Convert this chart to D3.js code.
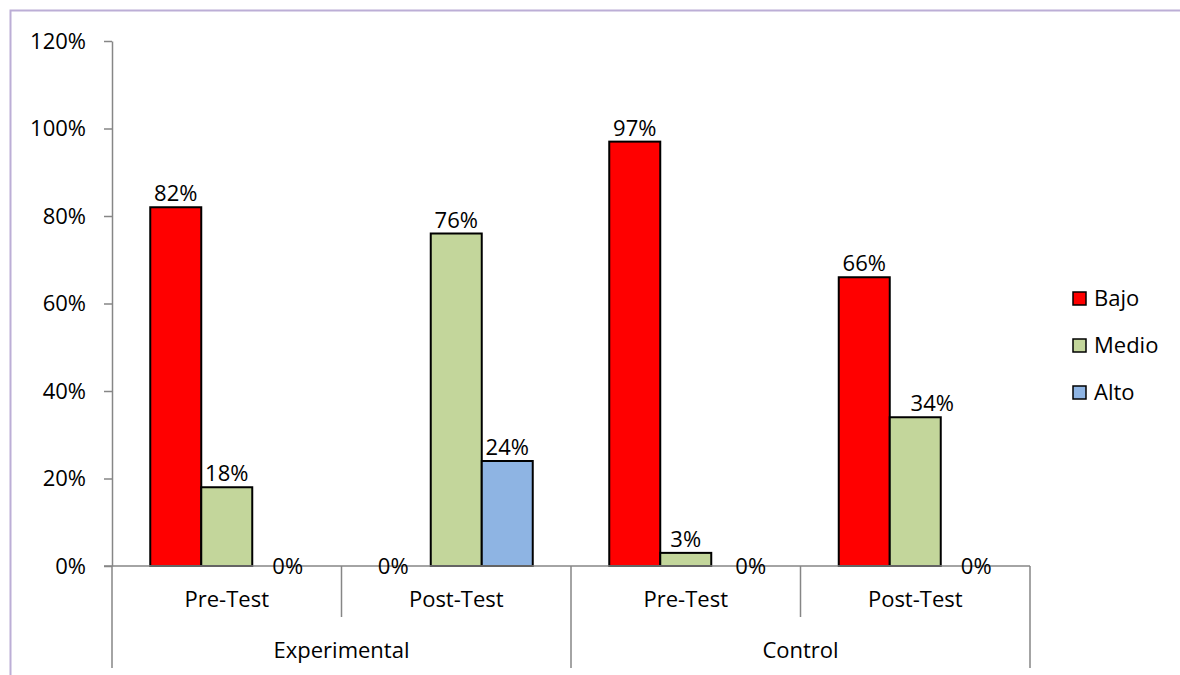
<!DOCTYPE html>
<html>
<head>
<meta charset="utf-8">
<script src="https://cdn.jsdelivr.net/npm/d3@7"></script>
<style>
  body { margin: 0; background: #fff; }
  svg { display: block; font-family: "Open Sans", sans-serif; }
</style>
</head>
<body>
<svg width="1180" height="675"></svg>
<script>
'use strict';

// datos
var grupos = ["Experimental", "Control"];
var pruebas = ["Pre-Test", "Post-Test"];
var series = ["Bajo", "Medio", "Alto"];
var bajo = [0.82, 0.00, 0.97, 0.66];
var medio = [0.18, 0.76, 0.03, 0.34];
var alto = [0.00, 0.24, 0.00, 0.00];
var yTicks = [0, 0.2, 0.4, 0.6, 0.8, 1.0, 1.2];
var colores = ["#FF0000", "#C3D69B", "#8EB4E3"];

var svg = d3.select("svg");
var fs = 22;

// borde del area del grafico
svg.append("path")
    .attr("d", "M10.5,700 V10.5 H1200")
    .attr("fill", "none")
    .attr("stroke", "#BCAED6")
    .attr("stroke-width", 2);

var mIzq = 112, mDer = 1030, mSup = 41, mInf = 566;

var categorias = [];
grupos.forEach(function(g) {
    pruebas.forEach(function(p) { categorias.push({grupo: g, prueba: p, key: g + "|" + p}); });
});

var valores = [bajo, medio, alto];

var x0 = d3.scaleBand()
    .domain(categorias.map(function(d) { return d.key; }))
    .range([mIzq, mDer])
    .padding(0);

var x1 = d3.scaleBand()
    .domain(series)
    .range([0, x0.bandwidth()])
    .paddingInner(0)
    .paddingOuter(0.75);

var y = d3.scaleLinear().domain([0, 1.2]).range([mInf, mSup]);

var fmt = d3.format(".0%");

// eje y
svg.append("g")
    .attr("transform", "translate(" + mIzq + ",0)")
    .call(d3.axisLeft(y).tickValues(yTicks).tickFormat(fmt).tickSize(8).tickPadding(18).tickSizeOuter(0))
    .call(function(g) {
        g.select(".domain").attr("stroke", "#868686").attr("stroke-width", 1.5);
        g.selectAll(".tick line").attr("stroke", "#868686").attr("stroke-width", 1.5);
        g.selectAll(".tick text").attr("font-size", fs).attr("fill", "#000")
            .attr("font-family", "Open Sans, sans-serif");
    });

// barras
var datos = [];
categorias.forEach(function(c, i) {
    series.forEach(function(s, j) {
        datos.push({cat: c.key, serie: s, idx: j, value: valores[j][i]});
    });
});

svg.append("g").selectAll("rect")
    .data(datos.filter(function(d) { return d.value > 0; }))
    .enter().append("rect")
    .attr("x", function(d) { return x0(d.cat) + x1(d.serie); })
    .attr("y", function(d) { return y(d.value); })
    .attr("width", x1.bandwidth())
    .attr("height", function(d) { return y(0) - y(d.value); })
    .attr("fill", function(d) { return colores[d.idx]; })
    .attr("stroke", "#000")
    .attr("stroke-width", 2);

// eje x (linea base y separadores de categorias)
var ax = svg.append("g").attr("stroke", "#868686").attr("stroke-width", 1.5);
ax.append("line").attr("x1", mIzq - 8).attr("x2", mDer).attr("y1", mInf).attr("y2", mInf);

var bordes = categorias.map(function(d) { return x0(d.key); }).concat([mDer]);
bordes.forEach(function(bx, i) {
    var esGrupo = (i % pruebas.length === 0);
    ax.append("line")
        .attr("x1", bx).attr("x2", bx)
        .attr("y1", mInf).attr("y2", esGrupo ? 668 : 617);
});

// etiquetas de categorias
svg.append("g").selectAll("text")
    .data(categorias)
    .enter().append("text")
    .attr("x", function(d) { return x0(d.key) + x0.bandwidth() / 2; })
    .attr("y", 607)
    .attr("text-anchor", "middle")
    .attr("font-size", fs)
    .text(function(d) { return d.prueba; });

svg.append("g").selectAll("text")
    .data(grupos)
    .enter().append("text")
    .attr("x", function(g) { return x0(g + "|" + pruebas[0]) + x0.bandwidth(); })
    .attr("y", 658)
    .attr("text-anchor", "middle")
    .attr("font-size", fs)
    .text(function(g) { return g; });

// etiquetas de datos (ajustes de posicion como en el original)
var ajuste = {
    "Experimental|Pre-Test|Alto": 10,
    "Experimental|Post-Test|Bajo": -12,
    "Control|Pre-Test|Alto": 14,
    "Control|Post-Test|Alto": 10,
    "Control|Post-Test|Medio": 17
};

svg.append("g").selectAll("text")
    .data(datos)
    .enter().append("text")
    .attr("x", function(d) {
        return x0(d.cat) + x1(d.serie) + x1.bandwidth() / 2 + (ajuste[d.cat + "|" + d.serie] || 0);
    })
    .attr("y", function(d) { return d.value > 0 ? y(d.value) - 6 : y(0) + 8; })
    .attr("text-anchor", "middle")
    .attr("font-size", fs)
    .text(function(d) { return fmt(d.value); });

// leyenda
var leyenda = svg.append("g").attr("transform", "translate(1073,292)");
series.forEach(function(s, i) {
    var g = leyenda.append("g").attr("transform", "translate(0," + (i * 47) + ")");
    g.append("rect").attr("width", 13).attr("height", 13)
        .attr("fill", colores[i]).attr("stroke", "#000").attr("stroke-width", 1.5);
    g.append("text").attr("x", 21).attr("y", 14).attr("font-size", fs).text(s);
});
</script>
</body>
</html>
